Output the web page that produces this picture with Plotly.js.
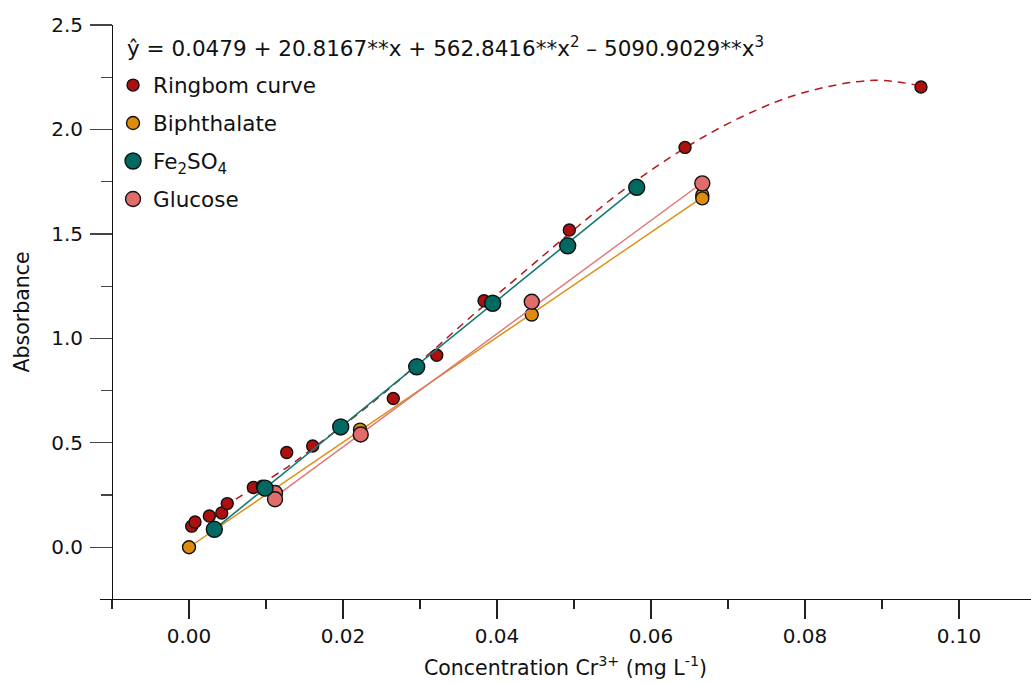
<!DOCTYPE html>
<html>
<head>
<meta charset="utf-8">
<script src="https://cdn.plot.ly/plotly-3.0.1.min.js"></script>
<style>html,body{margin:0;padding:0;background:#fff;}#chart{width:1031px;height:684px;}</style>
</head>
<body>
<div id="chart"></div>
<script>
// Ringbom curve points
const ringbomX = [0.00035,0.00078,0.00264,0.00425,0.00497,0.00835,0.00952,0.01269,0.01606,0.02653,0.03217,0.03831,0.04939,0.06442,0.09506];
const ringbomY = [0.101,0.121,0.150,0.164,0.209,0.286,0.292,0.454,0.485,0.712,0.919,1.180,1.519,1.914,2.203];
// Fitted (dashed) curve
const curveX = [0.0045,0.0064,0.0125,0.0179,0.0218,0.0255,0.0313,0.0371,0.0429,0.0506,0.0564,0.0644,0.0716,0.0794,0.0889,0.0951];
const curveY = [0.196,0.238,0.377,0.525,0.634,0.744,0.930,1.119,1.299,1.539,1.710,1.911,2.057,2.172,2.235,2.208];
// Biphthalate
const biphX = [0.0,0.01117,0.02221,0.04451,0.06666,0.06666];
const biphY = [0.0,0.251,0.563,1.114,1.686,1.670];
const biphLineX = [0.0,0.06666];
const biphLineY = [0.0,1.675];
// Fe2SO4
const feX = [0.00329,0.00987,0.0197,0.02957,0.03944,0.04918,0.05814];
const feY = [0.086,0.283,0.576,0.864,1.168,1.443,1.723];
const feLineX = [0.00329,0.05814];
const feLineY = [0.086,1.723];
// Glucose
const glucX = [0.01117,0.01117,0.0223,0.04451,0.06666];
const glucY = [0.260,0.230,0.540,1.175,1.742];
const glucLineX = [0.01117,0.06666];
const glucLineY = [0.241,1.745];

const names = ['Ringbom curve','Biphthalate','Fe<sub>2</sub>SO<sub>4</sub>','Glucose'];
const equation = 'ŷ = 0.0479 + 20.8167**x + 562.8416**x<sup>2</sup> – 5090.9029**x<sup>3</sup>';
const xTitle = 'Concentration Cr<sup>3+</sup> (mg L<sup>-1</sup>)';
const yTitle = 'Absorbance';

const cRed = '#ae1010', cOrange = '#de8c0e', cTeal = '#006a62', cPink = '#e06c6c';
const edge = {color:'#111', width:1.4};

const traces = [
  {x:curveX, y:curveY, mode:'lines', line:{color:'#b5191c', width:1.5, dash:'8px,6px', shape:'spline', smoothing:1}, showlegend:false, hoverinfo:'skip'},
  {x:ringbomX, y:ringbomY, mode:'markers', name:names[0], legendrank:1, legendgroup:'a', marker:{color:cRed, size:12, line:edge}},
  {x:biphLineX, y:biphLineY, mode:'lines', line:{color:cOrange, width:1.4}, showlegend:false},
  {x:biphX, y:biphY, mode:'markers', name:names[1], legendrank:2, legendgroup:'b', marker:{color:cOrange, size:13, line:edge}},
  {x:glucLineX, y:glucLineY, mode:'lines', line:{color:'#e27474', width:1.4}, showlegend:false},
  {x:glucX, y:glucY, mode:'markers', name:names[3], legendrank:4, legendgroup:'d', marker:{color:cPink, size:15, line:edge}},
  {x:feLineX, y:feLineY, mode:'lines', line:{color:'#137a72', width:1.6}, showlegend:false},
  {x:feX, y:feY, mode:'markers', name:names[2], legendrank:3, legendgroup:'c', marker:{color:cTeal, size:16, line:edge}}
];

const font = {family:'DejaVu Sans, sans-serif', color:'#111'};
const layout = {
  width:1031, height:684,
  margin:{l:100, r:0, t:25, b:85},
  paper_bgcolor:'#fff', plot_bgcolor:'#fff',
  font:Object.assign({size:20}, font),
  showlegend:true,
  legend:{x:0.014, xanchor:'left', y:0.931, yanchor:'top', bgcolor:'rgba(0,0,0,0)',
          font:Object.assign({size:21.5}, font), traceorder:'grouped', tracegroupgap:7, itemsizing:'trace'},
  xaxis:{range:[-0.01156,0.10935], showgrid:false, zeroline:false, showline:true, linecolor:'#111', linewidth:1.3,
         ticks:'outside', ticklen:19, tickwidth:1.2, tickcolor:'#222', tick0:0, dtick:0.02, tickformat:'.2f',
         minor:{dtick:0.01, ticks:'outside', ticklen:9, tickwidth:1.2, tickcolor:'#222'},
         tickfont:Object.assign({size:20}, font),
         title:{text:xTitle, font:Object.assign({size:20.5}, font), standoff:13}},
  yaxis:{range:[-0.2476,2.5], anchor:'free', position:0.0129, showgrid:false, zeroline:false, showline:true, linecolor:'#111', linewidth:1.3,
         ticks:'outside', ticklen:22, tickwidth:1.2, tickcolor:'#444', tick0:0, dtick:0.5, tickformat:'.1f',
         ticklabelstandoff:3,
         minor:{dtick:0.25, ticks:'outside', ticklen:11, tickwidth:1.2, tickcolor:'#444'},
         tickfont:Object.assign({size:20}, font),
         title:{text:yTitle, font:Object.assign({size:20.5}, font), standoff:14}},
  annotations:[{xref:'paper', yref:'paper', x:0.0268, y:0.9617, xanchor:'left', yanchor:'middle', showarrow:false,
                text:equation, font:Object.assign({size:21.5}, font)}]
};

Plotly.newPlot('chart', traces, layout, {displayModeBar:false, staticPlot:true});
</script>
</body>
</html>
